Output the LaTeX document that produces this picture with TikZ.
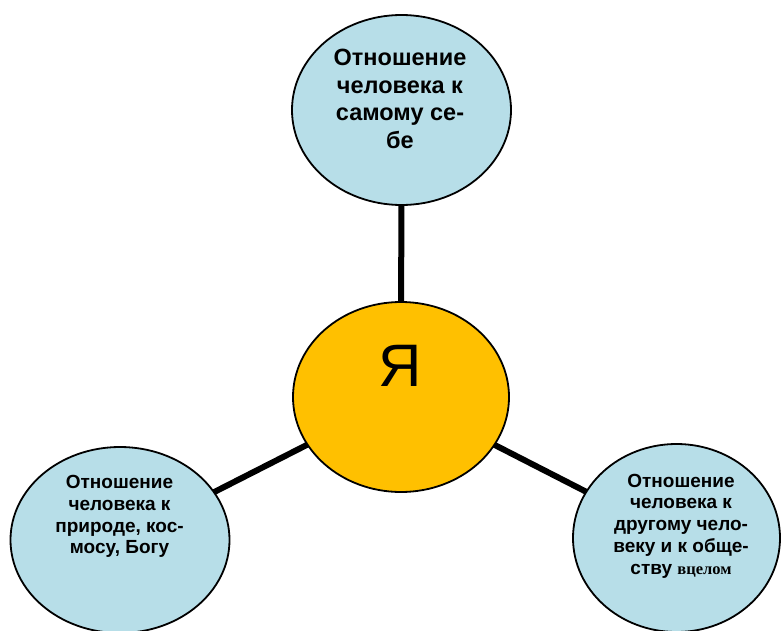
\documentclass[tikz,border=0pt]{standalone}
\usepackage{fontspec}
\setmainfont{Liberation Sans}
\newfontfamily\serifru{Liberation Serif}
\usetikzlibrary{shapes.geometric,backgrounds}
\definecolor{bubblefill}{HTML}{B7DEE8}
\definecolor{corefill}{HTML}{FFC000}
\begin{document}
\begin{tikzpicture}[x=1pt,y=-1pt,
  bubble/.style={ellipse, draw=black, line width=1.8pt, fill=bubblefill, inner sep=0pt},
  core/.style={ellipse, draw=black, line width=1.8pt, fill=corefill, inner sep=0pt},
  link/.style={line width=6pt, black},
  bigtext/.style={align=center, font=\bfseries\fontsize{23.5}{27.5}\selectfont, inner sep=0pt},
  smalltext/.style={align=center, font=\bfseries\fontsize{19}{21.8}\selectfont, inner sep=0pt}]
\useasboundingbox (0,0) rectangle (781,631);

\node[bubble, minimum width=219pt, minimum height=190pt] (top) at (401.5,110) {};
\node[core, minimum width=216pt, minimum height=190pt] (ctr) at (401,397) {};
\node[bubble, minimum width=219pt, minimum height=186pt] (left) at (120,540) {};
\node[bubble, minimum width=207pt, minimum height=188pt] (right) at (676.5,538) {};

\begin{scope}[on background layer]
\fill[white] (0,0) rectangle (781,631);
\draw[link] (top.center) -- (ctr.center);
\draw[link] (left.center) -- (ctr.center);
\draw[link] (right.center) -- (ctr.center);
\end{scope}

\node[bigtext] (toptext) at (400,99) {Отношение\\человека к\\самому се-\\бе};
\node[anchor=base, inner sep=0pt, font=\fontsize{60}{60}\selectfont] (ya) at (400,386) {Я};
\node[smalltext] (lefttext) at (119.5,516.5) {Отношение\\человека к\\природе, кос-\\мосу, Богу};
\node[smalltext] (righttext) at (681,526) {Отношение\\человека к\\другому чело-\\веку и к обще-\\ству {\serifru\bfseries\fontsize{16.5}{21.8}\selectfont вцелом}};
\end{tikzpicture}
\end{document}
